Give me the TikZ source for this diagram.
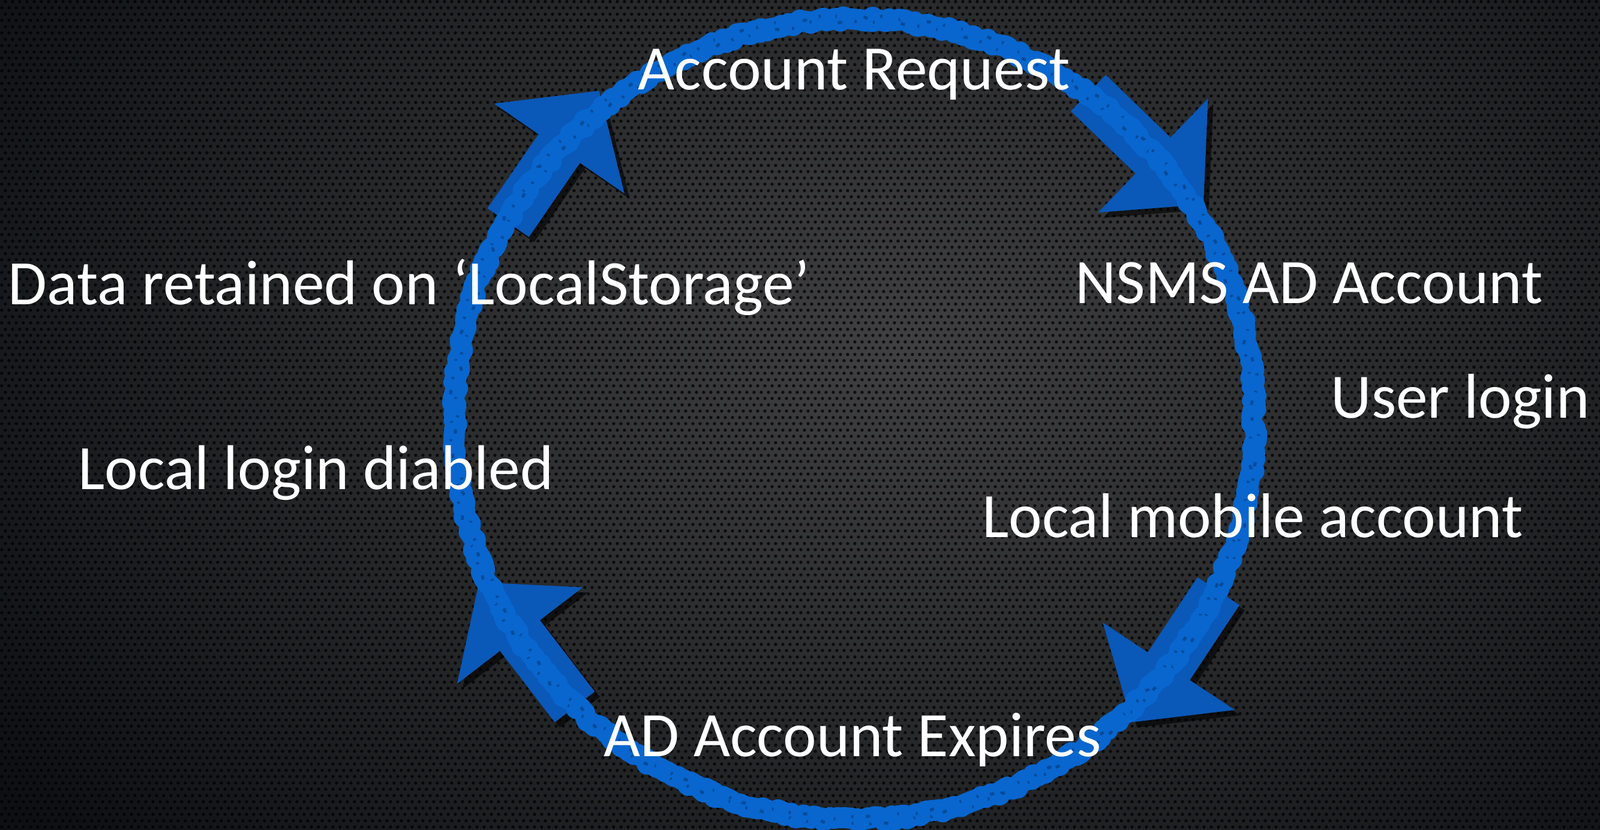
\documentclass[tikz,border=0pt]{standalone}
\usepackage{fontspec}
\setmainfont{Carlito}
\usetikzlibrary{patterns,shadows,decorations.pathmorphing}
\definecolor{ringblue}{RGB}{8,102,206}
\definecolor{ringdark}{RGB}{6,52,110}
\definecolor{arrowblue}{RGB}{10,88,184}
\definecolor{bgcenter}{RGB}{64,64,66}
\definecolor{bgmid}{RGB}{40,41,43}
\definecolor{bgouter}{RGB}{14,17,20}
\definecolor{bgedge}{RGB}{2,4,6}
\pgfdeclareradialshading{vignette}{\pgfpoint{0bp}{0bp}}{color(0bp)=(bgcenter); color(14bp)=(bgmid); color(28bp)=(bgouter); color(40bp)=(bgedge); color(50bp)=(bgedge)}
\pgfdeclarepatternformonly{meshholes}{\pgfpointorigin}{\pgfqpoint{3.4pt}{5.89pt}}{\pgfqpoint{3.4pt}{5.89pt}}{%
  \pgfpathcircle{\pgfqpoint{0.85pt}{1.47pt}}{0.78pt}%
  \pgfpathcircle{\pgfqpoint{2.55pt}{4.42pt}}{0.78pt}%
  \pgfusepath{fill}}
\tikzset{
  steptext/.style={text=white, anchor=base, inner sep=0pt, font=\fontsize{30}{36}\selectfont},
  blockarrow/.style={fill=arrowblue, drop shadow={fill=black, opacity=0.6, shadow xshift=2.5pt, shadow yshift=-2.5pt}},
  ring/.style={draw=ringblue, line width=10pt, line join=round, decorate,
    decoration={random steps, segment length=2pt, amplitude=1.3pt}},
  specks/.style={draw=ringdark, line width=1.4pt, opacity=0.55,
    dash pattern=on 1pt off 6pt on 2pt off 13pt on 0.7pt off 8pt, decorate,
    decoration={random steps, segment length=3pt, amplitude=1pt}}
}
\begin{document}
\begin{tikzpicture}
  \useasboundingbox (0,0) rectangle (26.67,13.82);
  % background
  \begin{scope}
    \clip (0,0) rectangle (26.67,13.82);
    \shade[shading=vignette] (-1,-3) rectangle (31,19);
    \fill[pattern=meshholes, pattern color=black, opacity=0.75] (0,0) rectangle (26.67,13.82);
  \end{scope}

  % arrows
  \fill[blockarrow, shift={(8.47,10.11)}, rotate=55.4] (0,-0.42) -- (1.5,-0.42) -- (1.5,-1.32) -- (2.67,0) -- (1.5,1.32) -- (1.5,0.42) -- (0,0.42) -- cycle;
  \fill[blockarrow, shift={(18.14,12.27)}, rotate=-44] (0,-0.42) -- (1.5,-0.42) -- (1.5,-1.32) -- (2.67,0) -- (1.5,1.32) -- (1.5,0.42) -- (0,0.42) -- cycle;
  \fill[blockarrow, shift={(20.31,3.97)}, rotate=236.5] (0,-0.42) -- (1.5,-0.42) -- (1.5,-1.32) -- (2.62,0) -- (1.5,1.32) -- (1.5,0.42) -- (0,0.42) -- cycle;
  \fill[blockarrow, shift={(9.58,2.04)}, rotate=127.5] (0,-0.42) -- (1.5,-0.42) -- (1.5,-1.32) -- (2.62,0) -- (1.5,1.32) -- (1.5,0.42) -- (0,0.42) -- cycle;

  % ring
  \draw[ring] (14.24,6.83) circle (6.67);
  \draw[specks] (14.24,6.83) circle (6.63);
  \draw[specks, dash phase=9pt] (14.24,6.83) circle (6.72);

  % texts
  \node[steptext] (request) at (14.24,12.32) {Account Request};
  \node[steptext] (nsms) at (21.82,8.76) {NSMS AD Account};
  \node[steptext] (userlogin) at (24.34,6.85) {User login};
  \node[steptext] (mobile) at (20.88,4.86) {Local mobile account};
  \node[steptext] (expires) at (14.21,1.22) {AD Account Expires};
  \node[steptext] (disabled) at (5.27,5.67) {Local login diabled};
  \node[steptext] (retained) at (6.82,8.74) {Data retained on ‘LocalStorage’};
\end{tikzpicture}
\end{document}
